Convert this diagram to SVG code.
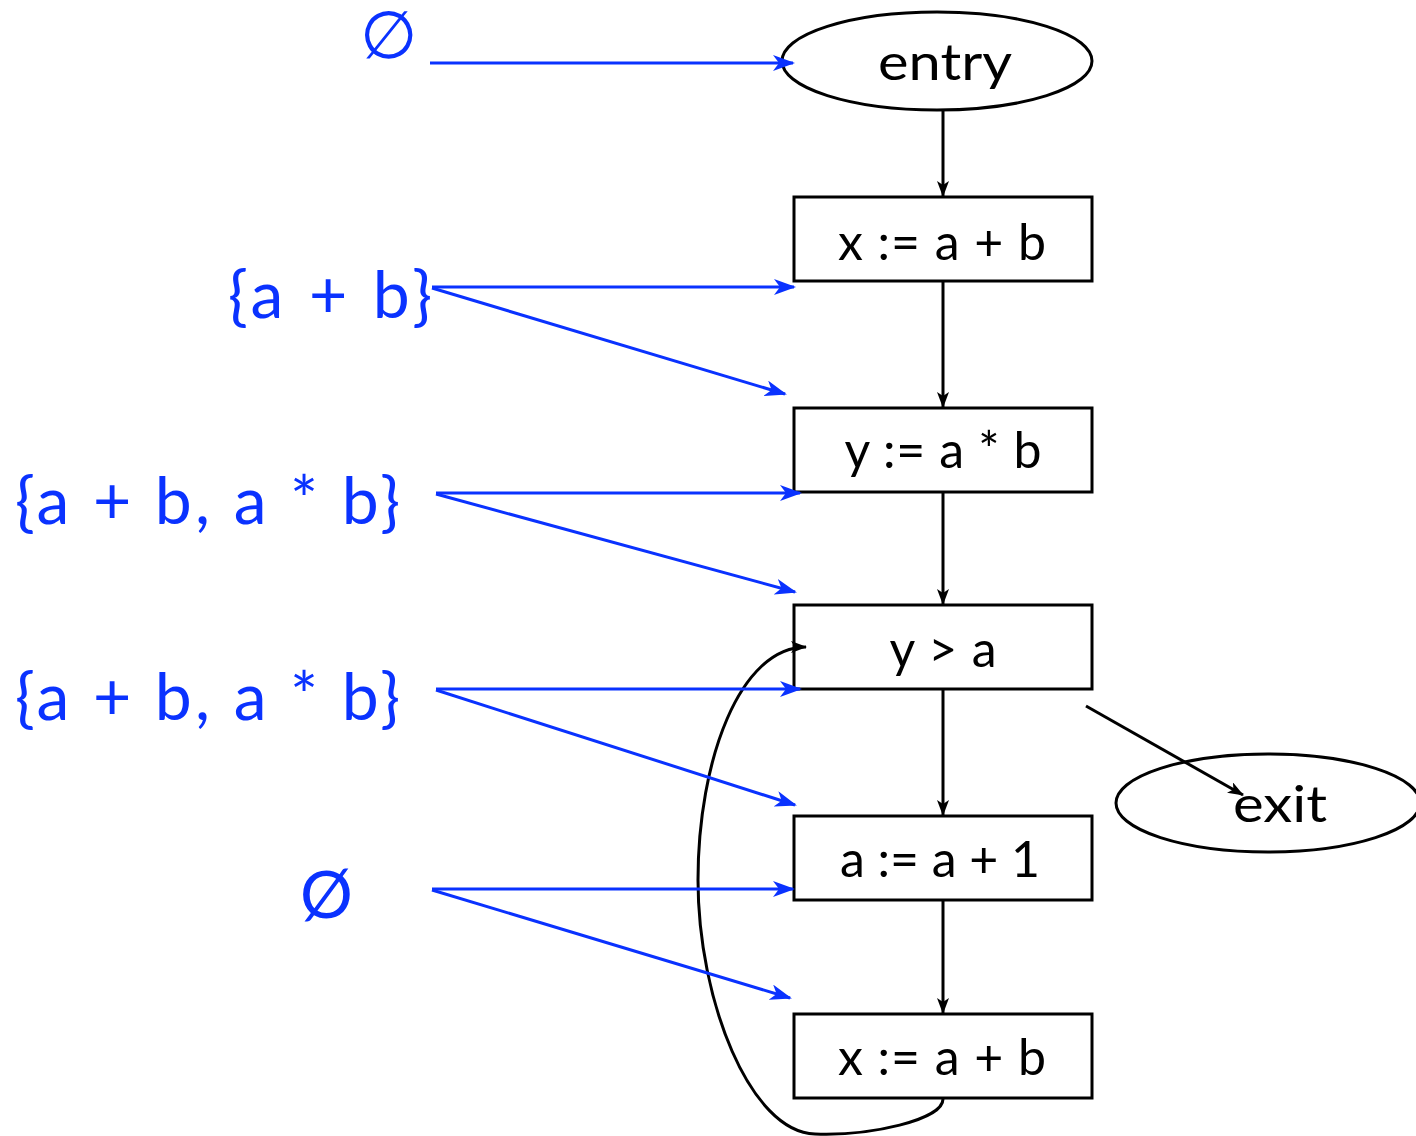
<svg xmlns="http://www.w3.org/2000/svg" width="1416" height="1136" viewBox="0 0 1416 1136">
<style>
.node{fill:#fff;stroke:#000;stroke-width:3}
.nt{font-family:"Lato","Liberation Sans",sans-serif;font-size:50px;fill:#000;text-anchor:middle}
.bl{font-family:"Lato","Liberation Sans",sans-serif;font-size:66px;fill:#0a32ff}
.be{fill:none;stroke:#0a32ff;stroke-width:3;marker-end:url(#ab)}
.ke{fill:none;stroke:#000;stroke-width:3;marker-end:url(#ak)}
</style>
<defs>
<marker id="ab" viewBox="0 0 22 16" refX="20" refY="8" markerWidth="22" markerHeight="16" markerUnits="userSpaceOnUse" orient="auto">
<path d="M0 0 L22 8 L0 16 L6 8 Z" fill="#0a32ff"/>
</marker>
<marker id="ak" viewBox="0 0 16 12" refX="15" refY="6" markerWidth="16" markerHeight="12" markerUnits="userSpaceOnUse" orient="auto">
<path d="M0 0 L16 6 L0 12 L4 6 Z" fill="#000"/>
</marker>
</defs>
<g id="entry"><ellipse class="node" cx="937" cy="61" rx="155" ry="49"/><text class="nt" x="945" y="80" font-size="58" textLength="134" lengthAdjust="spacingAndGlyphs">entry</text></g>
<g id="n1"><rect class="node" x="794" y="197" width="298" height="84"/><text class="nt" x="942" y="260" textLength="208" lengthAdjust="spacing">x := a + b</text></g>
<g id="n2"><rect class="node" x="794" y="408" width="298" height="84"/><text class="nt" x="943" y="468" textLength="197" lengthAdjust="spacing">y := a * b</text></g>
<g id="n3"><rect class="node" x="794" y="605" width="298" height="84"/><text class="nt" x="943" y="667" textLength="107" lengthAdjust="spacing">y &gt; a</text></g>
<g id="n4"><rect class="node" x="794" y="816" width="298" height="84"/><text class="nt" x="940" y="877" textLength="200" lengthAdjust="spacing">a := a + 1</text></g>
<g id="n5"><rect class="node" x="794" y="1014" width="298" height="84"/><text class="nt" x="942" y="1075" textLength="208" lengthAdjust="spacing">x := a + b</text></g>
<g id="exit"><ellipse class="node" cx="1268" cy="803" rx="152" ry="49"/><text class="nt" x="1280" y="822" font-size="58" textLength="94" lengthAdjust="spacingAndGlyphs">exit</text></g>
<g id="connectors">
<line class="ke" x1="943" y1="111" x2="943" y2="196"/>
<line class="ke" x1="943" y1="282" x2="943" y2="407"/>
<line class="ke" x1="943" y1="493" x2="943" y2="604"/>
<line class="ke" x1="943" y1="690" x2="943" y2="815"/>
<line class="ke" x1="943" y1="901" x2="943" y2="1013"/>
<line class="ke" x1="1086" y1="706" x2="1243" y2="795"/>
<path class="ke" d="M943 1099 C943 1120 870 1136 815 1134 C750 1132 698 1000 698 880 C698 760 740 647 806 647"/>
<line class="be" x1="430" y1="63" x2="793" y2="63"/>
<line class="be" x1="432" y1="287" x2="794" y2="287"/>
<line class="be" x1="432" y1="288" x2="785" y2="394"/>
<line class="be" x1="436" y1="493" x2="800" y2="493"/>
<line class="be" x1="436" y1="494" x2="795" y2="592"/>
<line class="be" x1="436" y1="689" x2="800" y2="689"/>
<line class="be" x1="436" y1="690" x2="795" y2="805"/>
<line class="be" x1="432" y1="889" x2="793" y2="889"/>
<line class="be" x1="432" y1="890" x2="790" y2="998"/>
</g>
<g id="labels">
<text class="bl" x="360" y="58" font-size="48" style="font-family:'DejaVu Sans',sans-serif">∅</text>
<text class="bl" x="228" y="318" textLength="204" lengthAdjust="spacing">{a + b}</text>
<text class="bl" x="15" y="524" textLength="385" lengthAdjust="spacing">{a + b, a * b}</text>
<text class="bl" x="15" y="720" textLength="385" lengthAdjust="spacing">{a + b, a * b}</text>
<text class="bl" x="300" y="918" font-size="62">Ø</text>
</g>
</svg>
